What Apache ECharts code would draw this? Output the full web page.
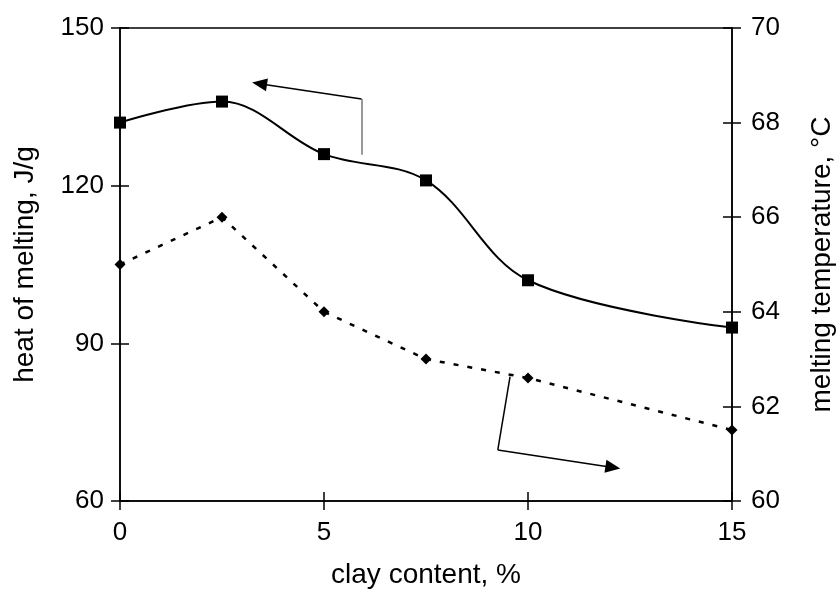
<!DOCTYPE html>
<html>
<head>
<meta charset="utf-8">
<script src="https://cdn.jsdelivr.net/npm/echarts@6/dist/echarts.min.js"></script>
<style>
html,body{margin:0;padding:0;background:#fff;}
#chart{width:839px;height:594px;}
</style>
</head>
<body>
<div id="chart"></div>
<script>
// data
var clayContent = [0, 2.5, 5, 7.5, 10, 15];
var heatOfMelting = [132, 136, 126, 121, 102, 93];
var meltingTemp = [65.0, 66.0, 64.0, 63.0, 62.6, 61.5];
var xTicks = [0, 5, 10, 15];
var heatTicks = [60, 90, 120, 150];
var tempTicks = [60, 62, 64, 66, 68, 70];
// annotation arrows (data coordinates)
var arrowHeatStem = [[5.92, 125.9], [5.92, 136.5]];
var arrowHeatHead = [[5.92, 136.5], [3.42, 139.4]];
var arrowTempStem = [[9.56, 62.63], [9.26, 61.08]];
var arrowTempHead = [[9.26, 61.08], [12.08, 60.71]];

function pairs(a, b) { return a.map(function (v, i) { return [v, b[i]]; }); }

var FONT = 'Liberation Sans, Arial, sans-serif';
var chart = echarts.init(document.getElementById('chart'));

var nameStyle = { color: '#000', fontSize: 28, fontFamily: FONT };

function xAx(inside, labels) {
  return {
    type: 'value', min: 0, max: 15, interval: 5, position: 'bottom',
    axisLine: { show: labels, onZero: false, lineStyle: { color: '#000', width: 1.5 } },
    axisTick: { show: true, inside: inside, length: 9, lineStyle: { color: '#000', width: 1.5 } },
    axisLabel: { show: labels, margin: 19, color: '#000', fontSize: 26, fontFamily: FONT },
    splitLine: { show: false },
    name: labels ? 'clay content, %' : '', nameLocation: 'middle', nameGap: 60,
    nameTextStyle: nameStyle
  };
}
function yAx(pos, min, max, interval, inside, labels, name, gap) {
  return {
    type: 'value', min: min, max: max, interval: interval, position: pos,
    axisLine: { show: labels, onZero: false, lineStyle: { color: '#000', width: 1.5 } },
    axisTick: { show: true, inside: inside, length: 9, lineStyle: { color: '#000', width: 1.5 } },
    axisLabel: { show: labels, margin: pos === 'left' ? 16 : 19, color: '#000', fontSize: 26, fontFamily: FONT },
    splitLine: { show: false },
    name: labels ? name : '', nameLocation: 'middle', nameRotate: 90, nameGap: gap,
    nameTextStyle: nameStyle
  };
}

var option = {
  animation: false,
  backgroundColor: '#fff',
  grid: { left: 120, right: 107, top: 28, bottom: 93, containLabel: false, outerBoundsMode: 'none',
          show: true, borderColor: '#000', borderWidth: 1.5, backgroundColor: 'transparent' },
  xAxis: [xAx(false, true), xAx(true, false)],
  yAxis: [
    yAx('left', 60, 150, 30, false, true, 'heat of melting, J/g', 81),
    yAx('right', 60, 70, 2, false, true, 'melting temperature, °C', 76),
    yAx('left', 60, 150, 30, true, false, '', 0),
    yAx('right', 60, 70, 2, true, false, '', 0)
  ],
  series: [
    {
      type: 'line', xAxisIndex: 0, yAxisIndex: 0,
      data: pairs(clayContent, heatOfMelting),
      smooth: 0.35,
      symbol: 'rect', symbolSize: 12,
      lineStyle: { color: '#000', width: 2 },
      itemStyle: { color: '#000' },
      markLine: {
        silent: true, animation: false,
        label: { show: false },
        data: [
          [{ coord: arrowHeatStem[0], symbol: 'none', lineStyle: { color: '#999', width: 2, type: 'solid' } },
           { coord: arrowHeatStem[1], symbol: 'none' }],
          [{ coord: arrowHeatHead[0], symbol: 'none', lineStyle: { color: '#000', width: 1.5, type: 'solid' } },
           { coord: arrowHeatHead[1], symbol: 'triangle', symbolSize: [13, 15] }]
        ]
      }
    },
    {
      type: 'line', xAxisIndex: 0, yAxisIndex: 1,
      data: pairs(clayContent, meltingTemp),
      smooth: false,
      symbol: 'diamond', symbolSize: 11,
      lineStyle: { color: '#000', width: 2.5, type: [5, 9] },
      itemStyle: { color: '#000' },
      markLine: {
        silent: true, animation: false,
        label: { show: false },
        data: [
          [{ coord: arrowTempStem[0], symbol: 'none', lineStyle: { color: '#000', width: 1.5, type: 'solid' } },
           { coord: arrowTempStem[1], symbol: 'none' }],
          [{ coord: arrowTempHead[0], symbol: 'none', lineStyle: { color: '#000', width: 1.5, type: 'solid' } },
           { coord: arrowTempHead[1], symbol: 'triangle', symbolSize: [13, 15] }]
        ]
      }
    }
  ]
};
chart.setOption(option);
</script>
</body>
</html>
